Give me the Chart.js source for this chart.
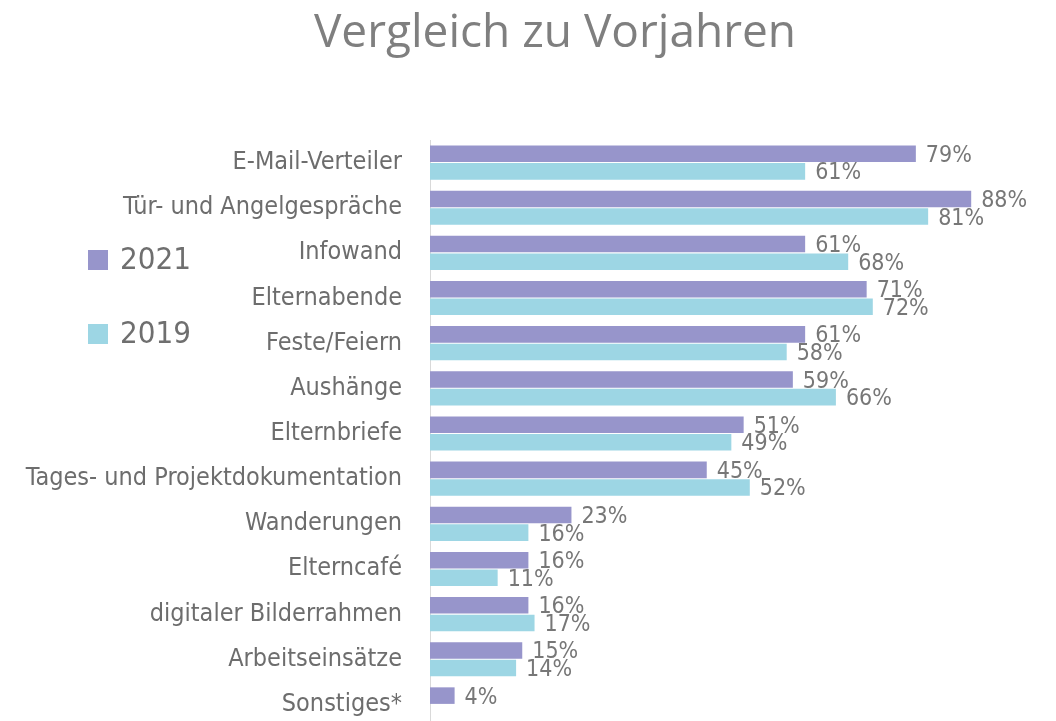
<!DOCTYPE html>
<html>
<head>
<meta charset="utf-8">
<script src="https://cdn.jsdelivr.net/npm/chart.js@4"></script>
<style>
  html, body { margin: 0; padding: 0; background: #fff; overflow: hidden; }
  #wrap { position: relative; width: 1056px; height: 721px; overflow: hidden; }
  #grafik { display: block; }
  #titel { position: absolute; left: 0; width: 1110px; top: -2px; text-align: center;
           font-family: "Open Sans", sans-serif; font-size: 46px; color: #7f7f7f; }
  .leg { position: absolute; left: 88px; font-family: "Liberation Sans Narrow", "DejaVu Sans Condensed", sans-serif;
         font-size: 31px; color: #6f6f6f; line-height: 34px; }
  .leg span { display: inline-block; width: 20px; height: 20px; margin-right: 12px; vertical-align: -1px; }
</style>
</head>
<body>
<div id="wrap">
  <canvas id="grafik" width="1056" height="762"></canvas>
  <div id="titel">Vergleich zu Vorjahren</div>
  <div class="leg" id="leg2021" style="top:241px"></div>
  <div class="leg" id="leg2019" style="top:315px"></div>
</div>
<script>
const kategorien = ['E-Mail-Verteiler', 'Tür- und Angelgespräche', 'Infowand', 'Elternabende', 'Feste/Feiern',
  'Aushänge', 'Elternbriefe', 'Tages- und Projektdokumentation', 'Wanderungen', 'Elterncafé',
  'digitaler Bilderrahmen', 'Arbeitseinsätze', 'Sonstiges*'];
const werte2021 = [79, 88, 61, 71, 61, 59, 51, 45, 23, 16, 16, 15, 4];
const werte2019 = [61, 81, 68, 72, 58, 66, 49, 52, 16, 11, 17, 14, null];
const farbe2021 = '#9795cb';
const farbe2019 = '#9dd6e4';

const schrift = '"Liberation Sans Narrow", "DejaVu Sans Condensed", sans-serif';

document.getElementById('leg2021').innerHTML = '<span style="background:' + farbe2021 + '"></span>2021';
document.getElementById('leg2019').innerHTML = '<span style="background:' + farbe2019 + '"></span>2019';

const wertLabels = {
  id: 'wertLabels',
  afterDatasetsDraw(chart) {
    const ctx = chart.ctx;
    ctx.save();
    ctx.font = '23px ' + schrift;
    ctx.fillStyle = '#777777';
    ctx.textBaseline = 'middle';
    ctx.textAlign = 'left';
    chart.data.datasets.forEach((ds, i) => {
      const meta = chart.getDatasetMeta(i);
      meta.data.forEach((bar, j) => {
        if (ds.data[j] == null) return;
        ctx.fillText(ds.data[j] + '%', bar.x + 10, bar.y + 2);
      });
    });
    ctx.restore();
  }
};

const ctx = document.getElementById('grafik').getContext('2d');
const chart = new Chart(ctx, {
  type: 'bar',
  data: {
    labels: kategorien,
    datasets: [
      { label: '2021', data: werte2021, backgroundColor: farbe2021, categoryPercentage: 0.78, barPercentage: 0.94 },
      { label: '2019', data: werte2019, backgroundColor: farbe2019, categoryPercentage: 0.78, barPercentage: 0.94 }
    ]
  },
  options: {
    indexAxis: 'y',
    responsive: false,
    animation: false,
    layout: { padding: { top: 140, right: 11, bottom: 0, left: 0 } },
    plugins: {
      legend: { display: false },
      tooltip: { enabled: false }
    },
    scales: {
      x: { display: false, min: 0, max: 100 },
      y: {
        grid: { display: false },
        border: { display: true, color: '#d9d9d9', width: 1 },
        ticks: { color: '#6d6d6d', font: { family: schrift, size: 25 }, padding: 20 },
        afterFit: function(scale) { scale.width = 430; }
      }
    }
  },
  plugins: [wertLabels]
});
</script>
</body>
</html>
